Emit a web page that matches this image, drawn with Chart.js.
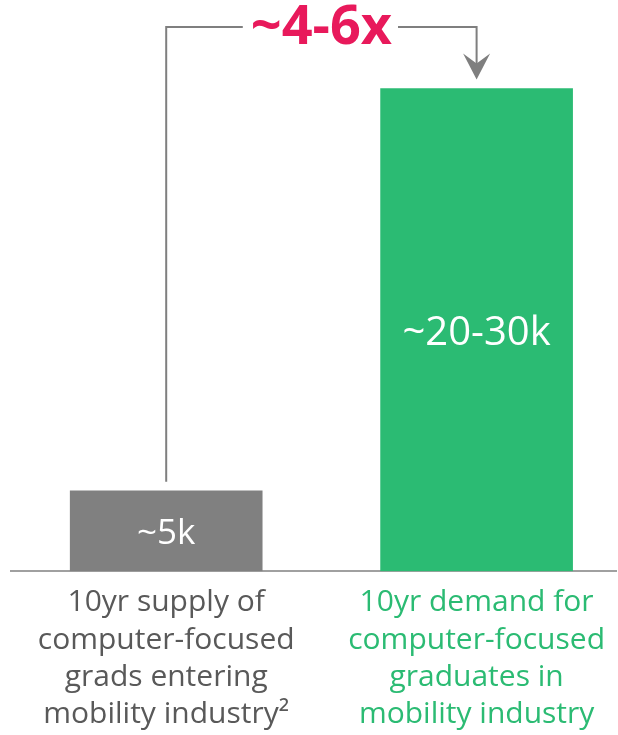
<!DOCTYPE html>
<html>
<head>
<meta charset="utf-8">
<script src="https://cdn.jsdelivr.net/npm/chart.js@4.4.1/dist/chart.umd.min.js"></script>
<style>
  html, body { margin: 0; padding: 0; background: #fff; overflow: hidden; }
  #wrap { position: relative; width: 618px; height: 735px; }
</style>
</head>
<body>
<div id="wrap"><canvas id="gapChart"></canvas></div>
<script>
// supply vs demand of computer-focused graduates, in thousands
const categories = [
  ["10yr supply of", "computer-focused", "grads entering", "mobility industry\u00b2"],
  ["10yr demand for", "computer-focused", "graduates in", "mobility industry"]
];
const positions = [0, 1];
const values = [5, 30];
const valueLabels = ["~5k", "~20-30k"];
const multipleLabel = "~4-6x";

const GREY = "#808080";
const GREEN = "#2bbb73";
const PINK = "#e8195b";
const FONT = "'Open Sans', 'DejaVu Sans', sans-serif";

const barColors = [GREY, GREEN];
const labelColors = ["#595959", GREEN];

// value text inside each bar, plus the bracket arrow from supply to demand
const gapArrow = {
  id: "gapArrow",
  afterDatasetsDraw(chart) {
    const ctx = chart.ctx;
    const [supply, demand] = chart.getDatasetMeta(0).data;
    const topY = 27;

    ctx.save();
    ctx.fillStyle = "#fff";
    ctx.textAlign = "center";
    ctx.textBaseline = "middle";
    ctx.font = `35px ${FONT}`;
    ctx.fillText(valueLabels[0], supply.x, (supply.y + supply.base) / 2 + 3);
    ctx.font = `40px ${FONT}`;
    ctx.fillText(valueLabels[1], demand.x, (demand.y + demand.base) / 2 + 4);

    ctx.font = `bold 54px ${FONT}`;
    const w = ctx.measureText(multipleLabel).width;
    const cx = (supply.x + demand.x) / 2;

    ctx.strokeStyle = "#7f7f7f";
    ctx.lineWidth = 2;
    ctx.beginPath();
    ctx.moveTo(supply.x, supply.y - 9);
    ctx.lineTo(supply.x, topY);
    ctx.lineTo(cx - w / 2 - 8, topY);
    ctx.stroke();

    const tipY = demand.y - 9;
    ctx.beginPath();
    ctx.moveTo(cx + w / 2 + 6, topY);
    ctx.lineTo(demand.x, topY);
    ctx.lineTo(demand.x, tipY - 12);
    ctx.stroke();

    ctx.fillStyle = "#7f7f7f";
    ctx.beginPath();
    ctx.moveTo(demand.x, tipY);
    ctx.lineTo(demand.x - 13.5, tipY - 26);
    ctx.lineTo(demand.x, tipY - 16);
    ctx.lineTo(demand.x + 13.5, tipY - 26);
    ctx.closePath();
    ctx.fill();

    ctx.fillStyle = PINK;
    ctx.fillText(multipleLabel, cx, topY + 2);
    ctx.restore();
  }
};

new Chart(document.getElementById("gapChart"), {
  type: "bar",
  data: {
    datasets: [{
      data: positions.map((x, i) => ({ x, y: values[i] })),
      backgroundColor: barColors,
      borderWidth: 0,
      barThickness: 192
    }]
  },
  options: {
    responsive: true,
    maintainAspectRatio: false,
    animation: false,
    layout: { padding: { left: 11, right: 0, top: 0, bottom: -11 } },
    plugins: {
      legend: { display: false },
      tooltip: { enabled: false }
    },
    scales: {
      x: {
        type: "linear",
        offset: false,
        min: -0.5,
        max: 1.45,
        afterBuildTicks: (scale) => {
          scale.ticks = positions.map((value) => ({ value }));
        },
        grid: { display: false, drawTicks: false },
        border: { display: true, color: "#a0a0a0", width: 2 },
        ticks: {
          autoSkip: false,
          maxRotation: 0,
          padding: 13,
          color: (c) => labelColors[c.index],
          font: { family: FONT, size: 30, lineHeight: 1.24 },
          callback: (value) => categories[value]
        }
      },
      y: {
        display: false,
        min: 0,
        max: 35.5
      }
    }
  },
  plugins: [gapArrow]
});
</script>
</body>
</html>
